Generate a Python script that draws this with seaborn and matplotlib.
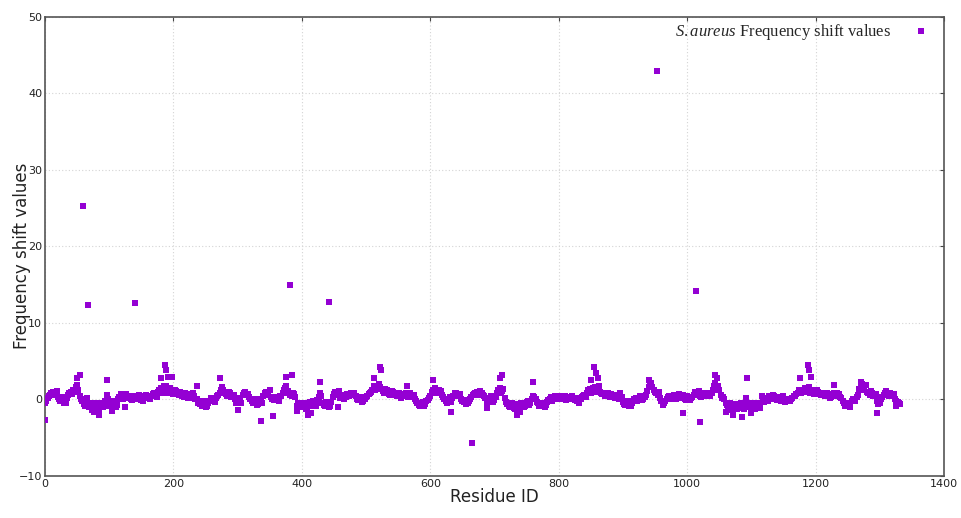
import numpy as np
import pandas as pd
import matplotlib
matplotlib.use("Agg")
import matplotlib.pyplot as plt
import seaborn as sns

# ---------------- data ----------------
# frequency shift band, residues 0, 4, 8, ... 1332
band_a_vals = [
    -0.4, 0.2, 0.6, 1.0, 0.7, 0.3, -0.2, 0.1, -0.5, 0.6,
    1.0, 1.3, 1.6, 1.2, 0.1, -0.6, -0.3, -1.0, -0.5, -1.2,
    -0.7, -1.4, -0.4, -0.9, 0.6, -0.3, -0.8, -0.4, -0.7, 0.3,
    0.6, 0.2, 0.5, 0.3, -0.1, 0.4, 0.0, 0.3, -0.2, 0.2,
    0.5, 0.1, 0.7, 0.5, 1.0, 1.5, 1.2, 1.8, 0.8, 1.3,
    0.7, 1.1, 0.6, 0.9, 0.3, 0.6, 0.2, 0.7, 0.4, 0.0,
    -0.3, -0.8, -0.4, -0.9, -0.2, 0.1, -0.3, 0.4, 0.8, 1.6,
    1.0, 0.5, 0.8, 0.4, 0.1, -0.3, -0.1, 0.6, 1.0, 0.7,
    0.1, -0.4, -0.1, -0.6, -0.2, 0.5, 1.0, 0.8, 0.3, -0.1,
    0.2, -0.2, 0.4, 1.2, 1.7, 0.9, 0.4, 0.7, -0.8, -0.4,
    -0.9, -0.5, -1.1, -0.3, -0.7, -0.4, -0.1, 0.8, -0.4, -0.9,
    -0.5, -0.8, 0.3, 1.0, 0.8, 0.2, 0.5, 0.3, 0.6, 0.9,
    0.7, 0.4, -0.1, 0.2, -0.2, 0.3, 0.7, 1.0, 1.7, 1.4,
    2.0, 1.4, 0.9, 1.2, 0.7, 1.1, 0.8, 0.5, 0.9, 0.4,
    0.7, 0.5, 0.8, 0.3, 0.0, -0.4, -0.8, -0.3, -0.6, -0.1,
    0.5, 1.2, 1.5, 0.9, 1.1, 0.3, -0.2, 0.1, -0.3, 0.5,
    0.8, 0.4, 0.1, -0.3, -0.6, -0.2, 0.3, 0.7, 1.0, 0.6,
    0.9, 0.5, -0.4, 0.1, 0.4, -0.1, 0.9, 1.5, 1.1, 0.2,
    -0.6, -1.0, -0.5, -1.2, -0.7, -0.9, -0.4, -0.8, -0.2, -0.5,
    0.5, 0.0, -0.5, -0.8, -0.4, -0.7, -0.1, 0.3, 0.0, 0.4,
    0.1, 0.5, 0.2, -0.1, 0.3, 0.5, 0.1, -0.2, -0.4, 0.3,
    0.6, 0.9, 1.4, 1.1, 1.6, 1.3, 1.0, 0.7, 0.4, 0.8,
    0.3, 0.6, 0.2, 0.5, 0.9, -0.3, -0.7, -0.4, -0.8, -0.2,
    0.2, -0.1, 0.3, 0.0, 0.6, 1.6, 2.1, 1.2, 0.8, 1.0,
    -0.2, -0.5, 0.1, 0.5, 0.2, 0.6, 0.3, 0.7, 0.4, 0.1,
    0.4, -0.1, 0.3, 1.0, 0.8, 0.5, 0.9, 0.6, 0.8, 0.4,
    1.3, 2.2, 1.7, 0.6, 0.3, -0.4, -0.9, -0.6, -1.1, -0.7,
    -1.0, -0.5, -1.3, 0.2, -0.8, -1.2, -0.6, -1.0, -0.7, 0.4,
    -0.3, 0.2, 0.5, 0.1, 0.4, -0.1, 0.3, 0.0, -0.3, 0.1,
    -0.2, 0.2, 0.5, 0.9, 1.2, 1.0, 1.5, 1.3, 0.9, 1.2,
    0.8, 1.0, 0.6, 0.8, 0.4, 0.6, 0.3, 0.9, 0.5, 0.7,
    0.2, -0.5, -0.9, -0.6, -0.2, 0.1, 0.3, 1.4, 2.0, 1.5,
    1.0, 0.6, 0.9, 0.5, -0.2, -0.5, 0.3, 0.8, 0.6, 0.9,
    0.4, 0.1, -0.3, -0.6,
]
# frequency shift band, residues 2, 6, 10, ... 1330
band_b_vals = [
    -0.2, 0.5, 0.9, 0.6, 1.1, 0.0, 0.3, -0.4, 0.2, 0.9,
    0.7, 1.0, 1.9, 0.4, -0.2, -0.9, 0.2, -0.7, -1.4, -0.4,
    -1.1, -0.5, -1.0, -0.2, 0.1, -0.9, -0.2, -1.0, 0.0, 0.7,
    0.0, 0.7, 0.4, 0.0, 0.5, 0.2, 0.6, -0.1, 0.4, 0.6,
    0.2, 0.4, 0.9, 0.3, 1.3, 0.9, 1.7, 1.1, 1.5, 0.9,
    1.3, 0.8, 1.0, 0.5, 0.8, 0.2, 0.5, 0.9, 0.1, -0.4,
    -0.6, -0.2, -1.0, -0.5, 0.2, -0.2, 0.2, 0.6, 1.2, 1.3,
    0.7, 1.0, 0.3, 0.6, -0.4, 0.2, -0.5, 0.9, 0.6, 0.3,
    -0.2, 0.1, -0.7, 0.0, -0.5, 0.8, 0.6, 1.2, 0.0, 0.3,
    -0.1, 0.5, 0.8, 1.5, 1.1, 0.6, 0.9, 0.3, -0.5, -1.0,
    -0.6, -1.3, -0.7, -0.9, -0.2, -0.8, 0.3, 0.4, -0.7, -0.3,
    -1.0, -0.3, 0.7, 0.6, 1.1, 0.6, 0.1, 0.7, 0.4, 0.6,
    0.9, 0.1, 0.3, -0.3, 0.1, 0.5, 0.9, 1.3, 1.2, 1.8,
    1.6, 1.1, 1.4, 0.9, 0.6, 1.0, 0.6, 0.7, 0.2, 0.6,
    0.9, 0.3, 0.5, 0.6, -0.2, -0.7, -0.5, -0.9, -0.2, 0.2,
    1.0, 0.8, 1.3, 1.2, 0.6, 0.1, -0.4, 0.3, 0.2, 0.8,
    0.5, 0.7, -0.2, -0.1, -0.4, 0.1, 0.6, 0.9, 0.7, 1.1,
    0.6, 0.2, 0.0, 0.4, -0.3, 0.3, 1.2, 0.8, 1.4, -0.3,
    -0.8, -0.4, -1.1, -0.6, -1.3, -0.5, -1.0, -0.3, -0.7, 0.1,
    0.3, -0.3, -0.9, -0.5, -1.0, -0.3, 0.1, -0.2, 0.5, 0.0,
    0.3, 0.0, 0.4, 0.1, 0.0, 0.2, -0.1, 0.2, 0.0, 0.5,
    0.3, 1.2, 0.9, 1.5, 1.0, 1.7, 0.8, 0.9, 0.6, 0.5,
    0.7, 0.4, 0.6, 0.1, 0.3, -0.6, -0.2, -0.9, -0.5, 0.1,
    -0.2, 0.4, -0.1, 0.3, 1.1, 1.9, 1.6, 1.0, 0.6, 0.2,
    -0.7, -0.2, 0.3, 0.0, 0.5, 0.1, 0.5, 0.2, 0.6, -0.1,
    0.1, 0.2, 0.6, 0.7, 1.1, 0.3, 0.7, 0.4, 0.5, 0.9,
    1.8, 1.5, 1.2, 0.2, 0.0, -0.7, -0.5, -1.0, -0.6, -1.2,
    -0.7, -1.1, -0.6, -0.4, -1.0, -0.5, -1.3, -0.4, -1.1, 0.0,
    0.1, -0.2, 0.3, 0.6, 0.0, 0.2, -0.2, 0.4, 0.1, -0.2,
    0.0, 0.4, 0.7, 1.2, 0.8, 1.3, 1.0, 1.6, 1.1, 0.7,
    1.2, 0.7, 0.9, 0.5, 0.8, 0.2, 0.7, 0.6, 0.8, 0.3,
    -0.2, -0.8, -0.4, -1.0, 0.0, -0.2, 0.6, 1.8, 1.2, 1.9,
    0.8, 1.1, 0.4, 0.7, -0.6, 0.0, 0.6, 1.1, 0.4, 0.6,
    0.7, -0.2, -0.5,
]
band_a_ids = np.arange(len(band_a_vals)) * 4
band_b_ids = np.arange(len(band_b_vals)) * 4 + 2

# individual residues off the band (outliers, spikes, dips)
extra_ids = [0, 59, 67, 140, 382, 442, 953, 1014, 665, 1020,
             337, 355, 994, 1296,
             50, 54, 96, 180, 187, 189, 192, 198, 236, 273,
             376, 385, 428, 512, 521, 523, 563, 605, 708, 712,
             760, 850, 855, 858, 861, 940, 1044, 1047, 1093, 1176,
             1188, 1190, 1193, 1228, 1270,
             84, 76, 104, 125, 300, 392, 410, 414, 457, 633,
             688, 735, 740, 1060, 1072, 1085, 1100, 1325, 1068]
extra_vals = [-2.7, 25.3, 12.3, 12.6, 15.0, 12.7, 42.9, 14.2, -5.7, -2.9,
              -2.8, -2.2, -1.8, -1.8,
              2.8, 3.2, 2.5, 2.8, 4.5, 3.8, 3.0, 3.0, 1.7, 2.8,
              3.0, 3.2, 2.3, 2.8, 4.3, 3.8, 1.7, 2.5, 2.8, 3.2,
              2.3, 2.5, 4.3, 3.5, 2.8, 2.5, 3.2, 2.8, 2.8, 2.8,
              4.5, 3.8, 3.0, 1.9, 2.3,
              -2.0, -1.7, -1.5, -1.0, -1.4, -1.5, -2.0, -1.8, -1.0, -1.6,
              -1.1, -2.0, -1.7, -1.6, -2.0, -2.3, -1.8, -0.9, -1.4]

x_ticks = [0, 200, 400, 600, 800, 1000, 1200, 1400]
y_ticks = [-10, 0, 10, 20, 30, 40, 50]
series_label = r"$\mathit{S.aureus}$ Frequency shift values"

df = pd.DataFrame({
    "Residue ID": np.concatenate([band_a_ids, band_b_ids, np.array(extra_ids)]),
    "Frequency shift values": np.concatenate([np.array(band_a_vals),
                                              np.array(band_b_vals),
                                              np.array(extra_vals)]),
})

# ---------------- style ----------------
sns.set_style("white")
plt.rcParams["font.family"] = ["DejaVu Sans"]
plt.rcParams["mathtext.fontset"] = "custom"
plt.rcParams["mathtext.rm"] = "Liberation Serif"
plt.rcParams["mathtext.it"] = "Liberation Serif:italic"

fig = plt.figure(figsize=(9.61, 5.18), dpi=100)
ax = fig.add_axes([0.0468, 0.0811, 0.9355, 0.8861])

color = "#9400D3"
sns.scatterplot(data=df, x="Residue ID", y="Frequency shift values", ax=ax,
                marker="s", s=14, color=color, linewidth=0, label=series_label,
                zorder=3)

ax.set_xlim(0, 1400)
ax.set_ylim(-10, 50)
ax.set_xticks(x_ticks)
ax.set_yticks(y_ticks)
ax.grid(True, linestyle=(0, (1, 2)), color="#d4d4d4", linewidth=0.8)
ax.tick_params(axis="both", direction="in", length=3, width=0.8,
               colors="#444444", labelsize=8, labelcolor="#222222",
               top=True, right=True, pad=2)
for side, sp in ax.spines.items():
    sp.set_color("#555555")
    sp.set_linewidth(1.2)

ax.set_xlabel("Residue ID", fontsize=12, color="#222222")
ax.set_ylabel("Frequency shift values", fontsize=12, color="#222222")
ax.xaxis.set_label_coords(0.5, -0.026)
ax.yaxis.set_label_coords(-0.016, 0.48)

leg = ax.legend(loc="upper right", frameon=False, markerfirst=False,
                prop={"family": "Liberation Serif", "size": 12},
                handlelength=1.0, handletextpad=1.3, borderaxespad=0.0,
                borderpad=0.4, markerscale=1.0,
                bbox_to_anchor=(0.991, 1.004))

fig.savefig("out.png", dpi=100)
